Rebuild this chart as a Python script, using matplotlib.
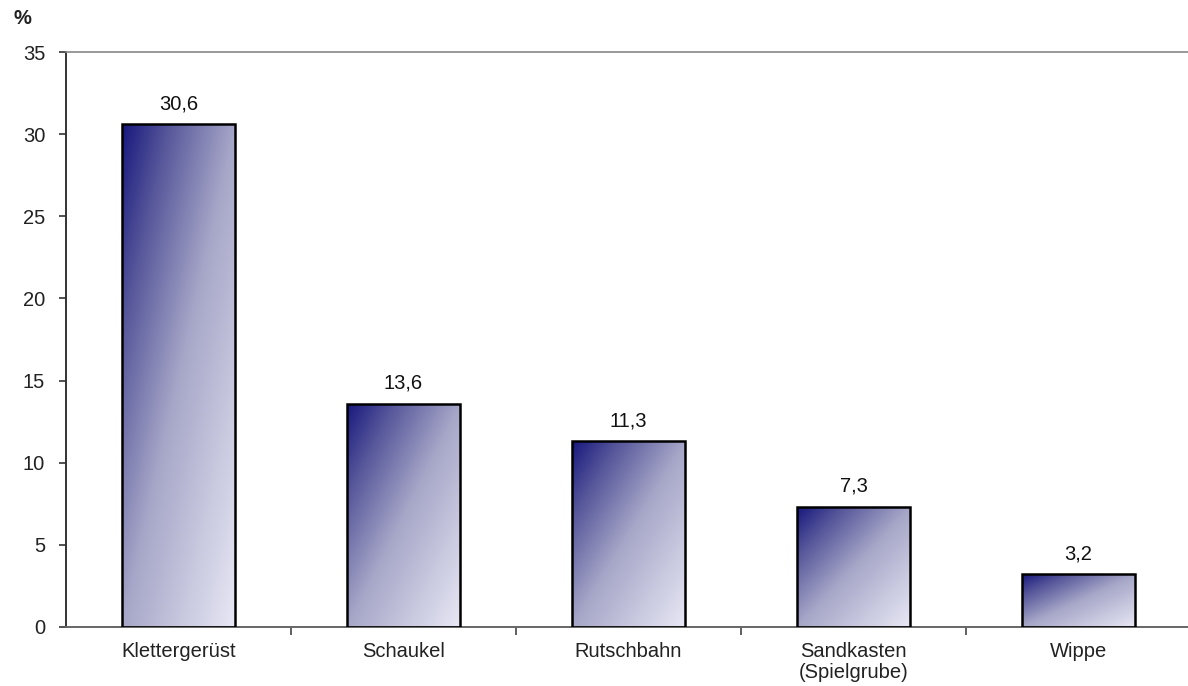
import numpy as np
import matplotlib
matplotlib.use("Agg")
import matplotlib.pyplot as plt
from matplotlib.patches import Rectangle
from matplotlib.colors import LinearSegmentedColormap

categories = ["Klettergerüst", "Schaukel", "Rutschbahn", "Sandkasten\n(Spielgrube)", "Wippe"]
values = [30.6, 13.6, 11.3, 7.3, 3.2]
value_labels = ["30,6", "13,6", "11,3", "7,3", "3,2"]
yticks = [0, 5, 10, 15, 20, 25, 30, 35]

plt.rcParams["font.family"] = ["Liberation Sans", "DejaVu Sans"]

W, H = 1188, 686
fig = plt.figure(figsize=(W / 100, H / 100), dpi=100)
ax = fig.add_axes([66 / W, 59 / H, 1125 / W, 575 / H])

cmap = LinearSegmentedColormap.from_list(
    "bar", [(0.0, "#18187e"), (0.2, "#55559a"), (0.5, "#a6a6c8"), (1.0, "#e8e8f5")])
bar_w = 0.505
fs = 14.5

# diagonal gradient field: dark at top-left, light at bottom-right
n = 200
u = np.linspace(0, 1, n)
vv = np.linspace(0, 1, n)
U, V = np.meshgrid(u, vv)
grad = (U + V) / 2.0  # V=0 at top row (origin='upper')

for i, val in enumerate(values):
    x0 = i - bar_w / 2
    rect = Rectangle((x0, 0), bar_w, val, facecolor="none",
                     edgecolor="black", linewidth=1.8, zorder=3)
    ax.add_patch(rect)
    im = ax.imshow(grad, cmap=cmap, vmin=0, vmax=1, origin="upper",
                   extent=(x0, x0 + bar_w, 0, val), aspect="auto",
                   interpolation="bilinear", zorder=2)
    im.set_clip_path(rect)
    ax.text(i, val + 0.68, value_labels[i], ha="center", va="bottom",
            fontsize=fs, color="#111111")

ax.set_xlim(-0.5, 4.5)
ax.set_ylim(0, 35)
ax.set_yticks(yticks)
ax.set_yticklabels([str(t) for t in yticks], fontsize=fs, color="#222222")
ax.tick_params(axis="y", length=5, width=1.2, pad=10, color="#333333")

ax.set_xticks(range(len(categories)))
ax.set_xticklabels(categories, fontsize=fs, color="#222222", linespacing=1.1)
ax.tick_params(axis="x", length=0, pad=11)
ax.set_xticks([0.5, 1.5, 2.5, 3.5], minor=True)
ax.tick_params(axis="x", which="minor", length=6, width=1.2, color="#444444")

for s in ["top", "right"]:
    ax.spines[s].set_color("#888888")
    ax.spines[s].set_linewidth(1.2)
ax.spines["left"].set_color("#333333")
ax.spines["left"].set_linewidth(1.4)
ax.spines["bottom"].set_color("#666666")
ax.spines["bottom"].set_linewidth(1.4)

fig.text(22 / W, 1 - 19 / H, "%", fontsize=fs, fontweight="bold",
         ha="center", va="center", color="#222222")

fig.savefig("out.png", dpi=100)
